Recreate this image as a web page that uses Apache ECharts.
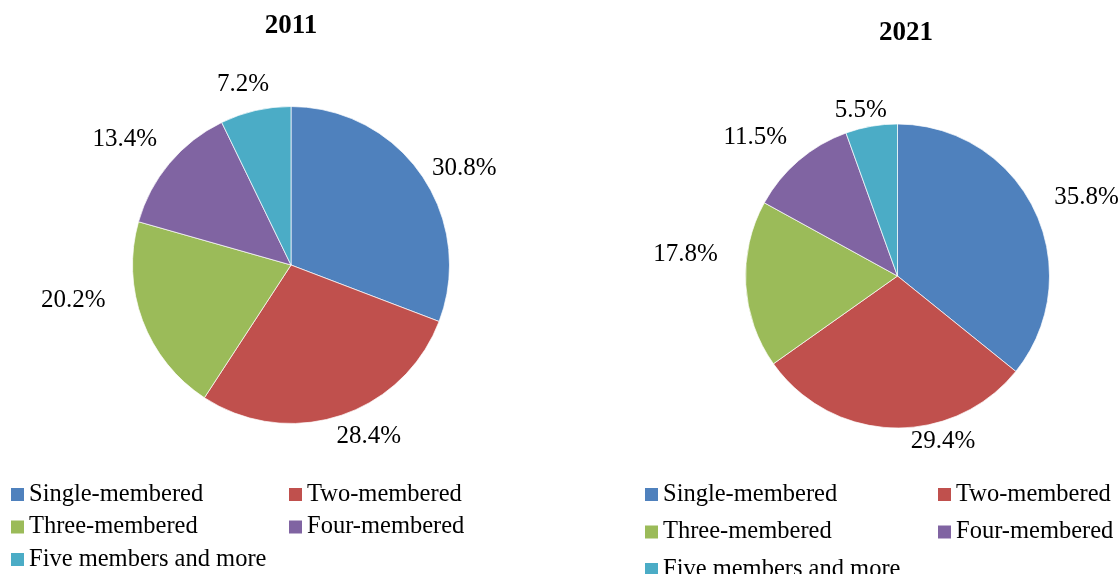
<!DOCTYPE html>
<html>
<head>
<meta charset="utf-8">
<script src="https://cdn.jsdelivr.net/npm/echarts@6/dist/echarts.min.js"></script>
<style>
  html, body { margin: 0; padding: 0; background: #fff; }
  #chart { width: 1118px; height: 574px; }
</style>
</head>
<body>
<div id="chart"></div>
<script>
// 家庭规模构成
var categories = ['Single-membered', 'Two-membered', 'Three-membered', 'Four-membered', 'Five members and more'];
var years = ['2011', '2021'];
var share2011 = [30.8, 28.4, 20.2, 13.4, 7.2];
var share2021 = [35.8, 29.4, 17.8, 11.5, 5.5];

var colors = ['#4F81BD', '#C0504D', '#9BBB59', '#8064A2', '#4BACC6'];
var font = 'Liberation Serif';

// 标签微调 (相对默认外侧位置)
var nudge = [
    [[-7, 2], [-13, 6], [-18, -25], [4, -14], [22, -11]],
    [[1, -7], [88, -1], [-8, -31], [3, -12], [23, -1]]
];

function toData(arr) {
    var out = [];
    for (var i = 0; i < arr.length; i++) {
        out.push({ name: categories[i], value: arr[i] });
    }
    return out;
}

function pieSeries(idx, values, center, radius) {
    return {
        type: 'pie',
        name: years[idx],
        center: center,
        radius: radius,
        startAngle: 90,
        clockwise: true,
        avoidLabelOverlap: false,
        data: toData(values),
        itemStyle: { borderColor: '#fff', borderWidth: 0.7 },
        label: {
            show: true,
            position: 'outside',
            formatter: function (p) { return p.value.toFixed(1) + '%'; },
            color: '#000',
            fontFamily: font,
            fontSize: 25
        },
        labelLine: { show: false, length: 15, length2: 0 },
        labelLayout: function (p) {
            var d = nudge[idx][p.dataIndex];
            return { dx: d[0], dy: d[1] };
        },
        emphasis: { disabled: true }
    };
}

function legendCol(names, left, gap) {
    return {
        data: names,
        orient: 'vertical',
        left: left,
        top: 482,
        height: 120,
        padding: 0,
        itemWidth: 13,
        itemHeight: 13,
        itemGap: gap,
        icon: 'rect',
        itemStyle: { borderWidth: 0 },
        selectedMode: false,
        textStyle: { color: '#000', fontFamily: font, fontSize: 24.5 }
    };
}

var myChart = echarts.init(document.getElementById('chart'));
var option = {
    animation: false,
    color: colors,
    title: [{
        text: years[0],
        left: 291,
        top: 13,
        padding: 0,
        textAlign: 'center',
        textStyle: { fontFamily: font, fontSize: 27, fontWeight: 'bold', color: '#000' }
    }, {
        text: years[1],
        left: 906,
        top: 20,
        padding: 0,
        textAlign: 'center',
        textStyle: { fontFamily: font, fontSize: 27, fontWeight: 'bold', color: '#000' }
    }],
    legend: [
        legendCol([categories[0], categories[2], categories[4]], 11, 7.5),
        legendCol([categories[1], categories[3]], 289, 7.5),
        legendCol([categories[0], categories[2], categories[4]], 645, 12.5),
        legendCol([categories[1], categories[3]], 938, 12.5)
    ],
    series: [
        pieSeries(0, share2011, [291, 265], 158.5),
        pieSeries(1, share2021, [897.5, 276], 152)
    ]
};
myChart.setOption(option);
</script>
</body>
</html>
